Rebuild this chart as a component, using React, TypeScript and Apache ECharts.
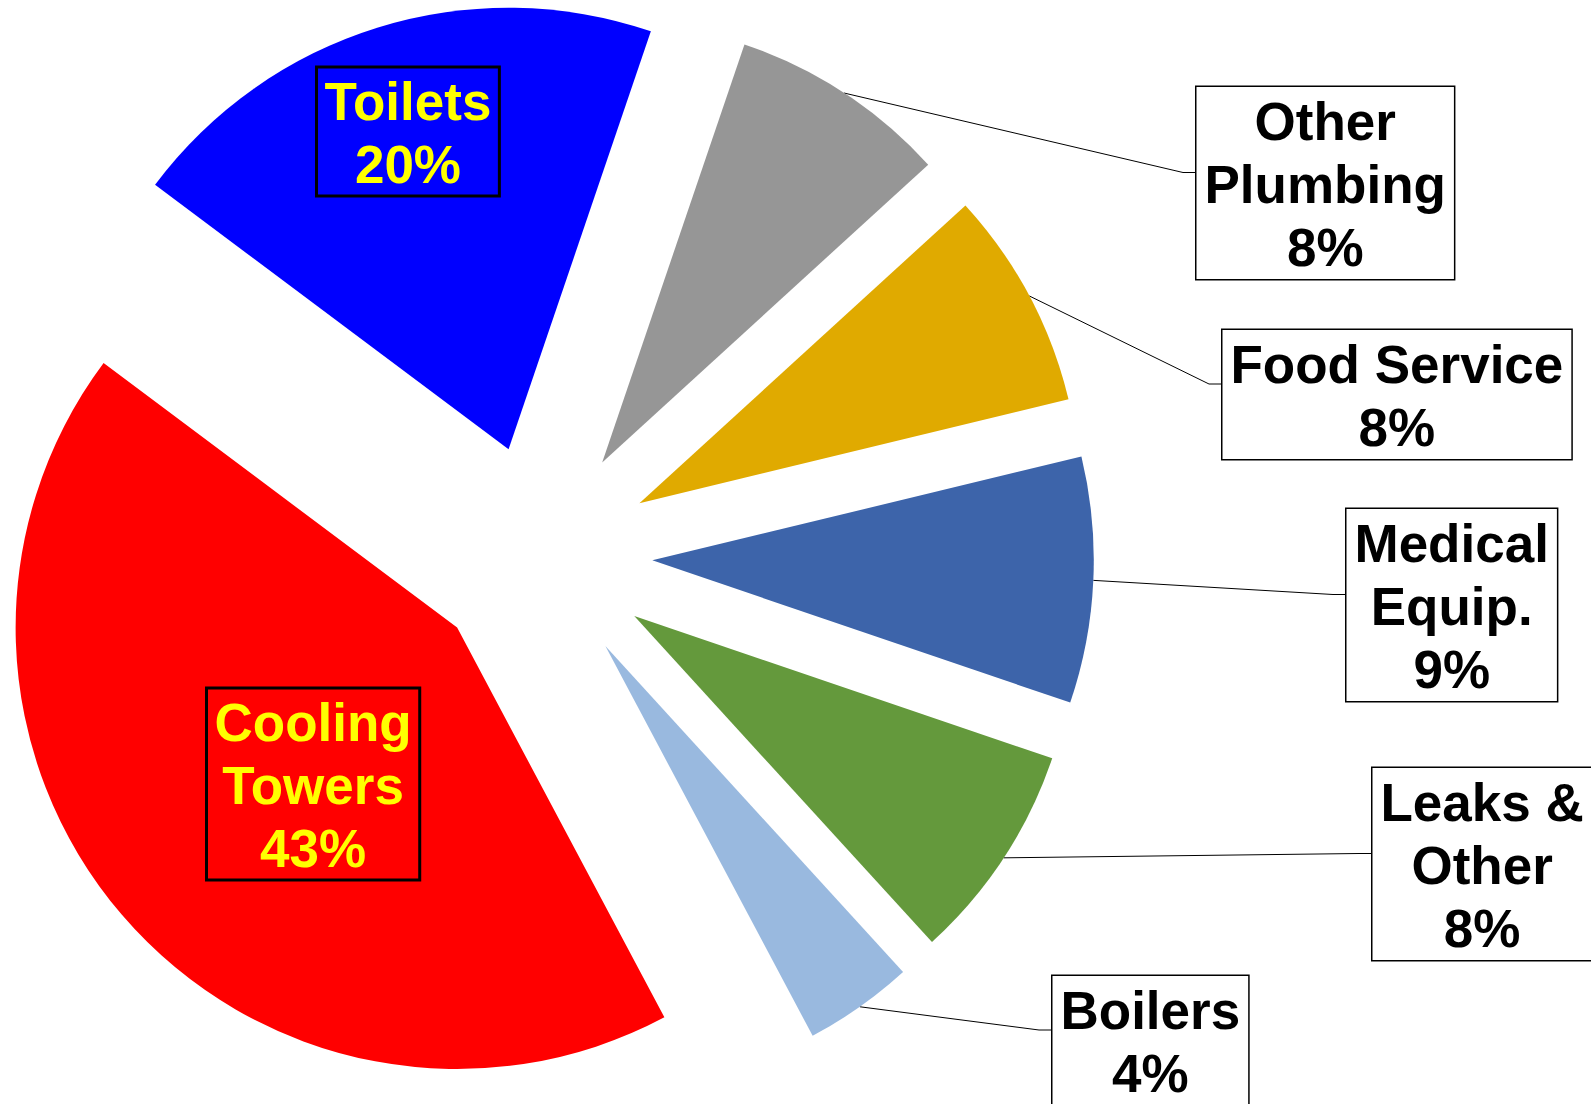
import React, { useEffect, useRef } from "react";
import * as echarts from "echarts";

// ---- data ----
const categories = [
  "Toilets",
  "Other Plumbing",
  "Food Service",
  "Medical Equip.",
  "Leaks & Other",
  "Boilers",
  "Cooling Towers",
];
const labelNames = [
  "Toilets",
  "Other\nPlumbing",
  "Food Service",
  "Medical\nEquip.",
  "Leaks &\nOther",
  "Boilers",
  "Cooling\nTowers",
];
const shares = [20, 8, 8, 9, 8, 4, 43];

// ---- styles / layout ----
const sliceColors = ["#0000FF", "#969696", "#E0AA00", "#3D64AA", "#64993C", "#99B9DF", "#FF0000"];
const insideLabel = [true, false, false, false, false, false, true];
const labelBoxTopLeft: [number, number][] = [
  [315, 67],
  [1195, 87],
  [1221, 330],
  [1345, 509],
  [1371, 768],
  [1051, 976],
  [205, 688],
];

const W = 1591;
const H = 1104;
const PIE_CX = 541.4;
const PIE_CY = 555.3;
const PIE_R = 441.5;
const EXPLODE = 111;
const START_ANGLE = 143.2;
const FONT = "'Liberation Sans', Arial, Helvetica, sans-serif";

function buildOption() {
  const total = shares.reduce((a, b) => a + b, 0);
  const midAngles: number[] = [];
  let acc = 0;
  for (const v of shares) {
    const a0 = START_ANGLE - (acc / total) * 360;
    acc += v;
    const a1 = START_ANGLE - (acc / total) * 360;
    midAngles.push((a0 + a1) / 2);
  }

  const series = shares.map((_, owner) => {
    const mid = (midAngles[owner] * Math.PI) / 180;
    const cx = PIE_CX + EXPLODE * Math.cos(mid);
    const cy = PIE_CY - EXPLODE * Math.sin(mid);
    const inside = insideLabel[owner];
    return {
      type: "pie",
      name: categories[owner],
      center: [cx, cy],
      radius: [0, PIE_R],
      startAngle: START_ANGLE,
      clockwise: true,
      avoidLabelOverlap: false,
      silent: true,
      emphasis: { disabled: true },
      animation: false,
      data: shares.map((v, i) =>
        i === owner
          ? {
              name: categories[i],
              value: v,
              itemStyle: { color: sliceColors[i], borderWidth: 0 },
              label: {
                show: true,
                position: inside ? "inside" : "outside",
                formatter: `${labelNames[i]}\n${v}%`,
                color: inside ? "#FFFF00" : "#000000",
                backgroundColor: inside ? "transparent" : "#FFFFFF",
                borderColor: "#000000",
                borderWidth: 1.5,
                padding: [3, 8, 0, 8],
                fontSize: 53,
                lineHeight: 63,
                fontWeight: "bold",
                fontFamily: FONT,
                align: "center",
              },
              labelLine: {
                show: !inside,
                smooth: false,
                lineStyle: { color: "#000000", width: 1 },
              },
            }
          : {
              name: categories[i],
              value: v,
              itemStyle: { color: "rgba(0,0,0,0)", borderWidth: 0 },
              label: { show: false },
              labelLine: { show: false },
            }
      ),
      labelLayout: (params: any) => {
        if (params.dataIndex !== owner) return {};
        const [left, top] = labelBoxTopLeft[owner];
        const w = params.labelRect.width;
        const h = params.labelRect.height;
        const res: any = {
          x: left + w / 2,
          y: top,
          align: "center",
          verticalAlign: "top",
        };
        if (!inside) {
          const ay = top + h / 2 - 12;
          res.labelLinePoints = [
            [cx + PIE_R * Math.cos(mid), cy - PIE_R * Math.sin(mid)],
            [left - 12, ay],
            [left, ay],
          ];
        }
        return res;
      },
    };
  });

  return {
    animation: false,
    backgroundColor: "#FFFFFF",
    series,
  };
}

export default function App() {
  const ref = useRef<HTMLDivElement>(null);
  useEffect(() => {
    if (!ref.current) return;
    const chart = echarts.init(ref.current, undefined, { renderer: "svg", width: W, height: H });
    chart.setOption(buildOption() as any);
    return () => chart.dispose();
  }, []);
  return (
    <div
      ref={ref}
      style={{ position: "fixed", left: 0, top: 0, width: W, height: H, background: "#fff" }}
    />
  );
}
